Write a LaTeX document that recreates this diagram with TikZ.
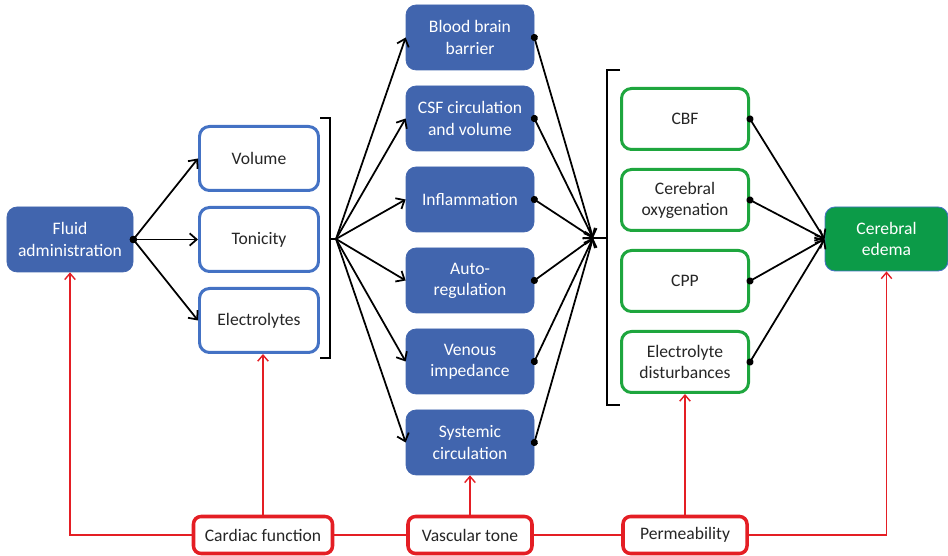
\documentclass[tikz,border=0pt]{standalone}
\usepackage{fontspec}
\setmainfont{Carlito}
\usepackage{tikz}
\usetikzlibrary{shapes.geometric, arrows.meta}
\definecolor{boxblue}{RGB}{65,101,174}
\definecolor{lineblue}{RGB}{68,114,196}
\definecolor{boxgreen}{RGB}{30,166,62}
\definecolor{fillgreen}{RGB}{12,155,72}
\definecolor{linered}{RGB}{228,30,36}
\definecolor{textgray}{RGB}{38,38,38}
\tikzstyle{filled} = [rectangle, rounded corners=0.2cm, minimum width=2.56cm, minimum height=1.3cm, text centered, align=center, draw=boxblue, fill=boxblue, text=white]
\tikzstyle{outlined} = [rectangle, rounded corners=0.2cm, minimum width=2.38cm, minimum height=1.28cm, text centered, align=center, line width=1.7pt, draw=lineblue, fill=white, text=textgray]
\tikzstyle{outcome} = [rectangle, rounded corners=0.2cm, minimum width=2.54cm, minimum height=1.22cm, text centered, align=center, line width=1.7pt, draw=boxgreen, fill=white, text=textgray]
\tikzstyle{result} = [rectangle, rounded corners=0.2cm, minimum width=2.46cm, minimum height=1.28cm, text centered, align=center, line width=0.5pt, draw=lineblue, fill=fillgreen, text=white]
\tikzstyle{factor} = [rectangle, rounded corners=0.15cm, minimum width=2.48cm, minimum height=0.74cm, text centered, line width=2pt, draw=linered, fill=white, text=textgray]
\tikzstyle{arrow} = [line width=1pt, -{Straight Barb[length=4pt,width=7pt]}]
\tikzstyle{dotarrow} = [line width=1pt, {Circle[length=4pt]}-{Straight Barb[length=4pt,width=7pt]}, shorten <=-2pt]
\tikzstyle{bracket} = [line width=1pt]
\tikzstyle{redline} = [line width=0.8pt, draw=linered]
\tikzstyle{redarrow} = [line width=0.8pt, draw=linered, -{Straight Barb[length=3.5pt,width=6pt]}]

\begin{document}
\begin{tikzpicture}[node distance=1.62cm]
\useasboundingbox (0,0) rectangle (18.96,11.12);
% inputs
\node (fluid) [filled, minimum width=2.52cm] at (1.40,6.33) {Fluid\\administration};
\node (tonicity) [outlined, right of = fluid, xshift=2.16cm] {Tonicity};
\node (volume) [outlined, above of = tonicity] {Volume};
\node (electrolytes) [outlined, below of = tonicity] {Electrolytes};
% mechanisms
\node (barrier) [filled] at (9.40,10.37) {Blood brain\\barrier};
\node (csf) [filled, below of = barrier] {CSF circulation\\and volume};
\node (inflammation) [filled, below of = csf] {Inflammation};
\node (autoreg) [filled, below of = inflammation] {Auto-\\regulation};
\node (venous) [filled, below of = autoreg] {Venous\\impedance};
\node (systemic) [filled, below of = venous] {Systemic\\circulation};
% outcomes
\node (cbf) [outcome] at (13.70,8.74) {CBF};
\node (oxygenation) [outcome, below of = cbf] {Cerebral\\oxygenation};
\node (cpp) [outcome, below of = oxygenation] {CPP};
\node (disturbances) [outcome, below of = cpp] {Electrolyte\\disturbances};
\node (edema) [result] at (17.73,6.34) {Cerebral\\edema};
% modifiers
\node (cardiac) [factor, minimum width=2.78cm] at (5.26,0.42) {Cardiac function};
\node (vascular) [factor] at (9.40,0.42) {Vascular tone};
\node (permeability) [factor] at (13.70,0.42) {Permeability};

% brackets
\coordinate (leftbrace) at (6.72,6.34);
\coordinate (rightbrace) at (11.86,6.36);
\draw [bracket] (6.40,8.76) -- (6.60,8.76) -- (6.60,3.96) -- (6.40,3.96);
\draw [bracket] (6.60,6.34) -- (leftbrace);
\draw [bracket] (12.40,9.72) -- (12.14,9.72) -- (12.14,3.02) -- (12.40,3.02);
\draw [bracket] (12.14,6.36) -- (rightbrace);

\draw [dotarrow] (fluid.east) -- (volume.west);
\draw [dotarrow] (fluid.east) -- (tonicity.west);
\draw [dotarrow] (fluid.east) -- (electrolytes.west);
\draw [arrow] (leftbrace) -- (barrier.west);
\draw [arrow] (leftbrace) -- (csf.west);
\draw [arrow] (leftbrace) -- (inflammation.west);
\draw [arrow] (leftbrace) -- (autoreg.west);
\draw [arrow] (leftbrace) -- (venous.west);
\draw [arrow] (leftbrace) -- (systemic.west);
\draw [dotarrow] (barrier.east) -- (rightbrace);
\draw [dotarrow] (csf.east) -- (rightbrace);
\draw [dotarrow] (inflammation.east) -- (rightbrace);
\draw [dotarrow] (autoreg.east) -- (rightbrace);
\draw [dotarrow] (venous.east) -- (rightbrace);
\draw [dotarrow] (systemic.east) -- (rightbrace);
\draw [dotarrow] (cbf.east) -- (edema.west);
\draw [dotarrow] (oxygenation.east) -- (edema.west);
\draw [dotarrow] (cpp.east) -- (edema.west);
\draw [dotarrow] (disturbances.east) -- (edema.west);

\draw [redline] (cardiac) -- (vascular);
\draw [redline] (vascular) -- (permeability);
\draw [redarrow] (cardiac.west) -| (fluid.south);
\draw [redarrow] (permeability.east) -| (edema.south);
\draw [redarrow] (cardiac.north) -- (cardiac.north |- electrolytes.south);
\draw [redarrow] (vascular) -- (systemic);
\draw [redarrow] (permeability) -- (disturbances);
\end{tikzpicture}
\end{document}
